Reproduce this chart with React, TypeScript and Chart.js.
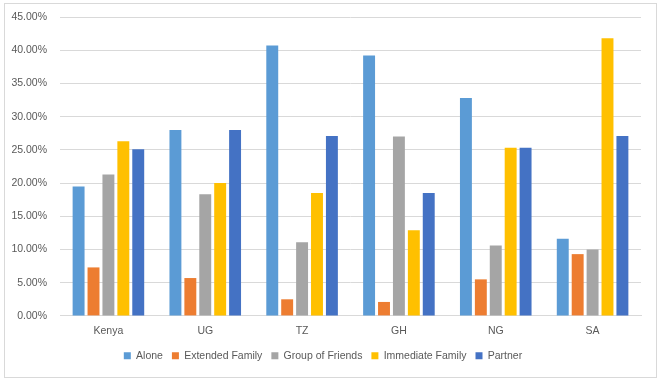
import React, { useEffect, useRef } from "react";
import { Chart, registerables } from "chart.js";

Chart.register(...registerables);

const categories = ["Kenya", "UG", "TZ", "GH", "NG", "SA"];
const alone = [19.5, 28.0, 40.7, 39.2, 32.8, 11.6];
const extendedFamily = [7.3, 5.7, 2.5, 2.1, 5.5, 9.3];
const groupOfFriends = [21.3, 18.3, 11.1, 27.0, 10.6, 10.0];
const immediateFamily = [26.3, 20.0, 18.5, 12.9, 25.3, 41.8];
const partner = [25.1, 28.0, 27.1, 18.5, 25.3, 27.1];

const seriesNames = ["Alone", "Extended Family", "Group of Friends", "Immediate Family", "Partner"];
const seriesData = [alone, extendedFamily, groupOfFriends, immediateFamily, partner];
const seriesColors = ["#5B9BD5", "#ED7D31", "#A5A5A5", "#FFC000", "#4472C4"];

const FONT = "'Liberation Sans', 'DejaVu Sans', sans-serif";

export default function App() {
  const ref = useRef<HTMLCanvasElement | null>(null);
  useEffect(() => {
    if (!ref.current) return;
    const chart = new Chart(ref.current, {
      type: "bar",
      data: {
        labels: categories,
        datasets: seriesNames.map((name, i) => ({
          label: name,
          data: seriesData[i],
          backgroundColor: seriesColors[i],
          borderWidth: 0,
          categoryPercentage: 0.77,
          barPercentage: 0.8,
        })),
      },
      options: {
        animation: false,
        responsive: false,
        maintainAspectRatio: false,
        layout: { padding: { left: 0, right: 15, top: 13, bottom: 6 } },
        plugins: {
          tooltip: { enabled: false },
          legend: {
            position: "bottom",
            labels: {
              boxWidth: 7,
              boxHeight: 7,
              color: "#595959",
              font: { family: FONT, size: 10.5 },
              padding: 9,
            },
          },
        },
        scales: {
          x: {
            afterFit: (s: any) => {
              s.height = s.height + 3;
            },
            grid: { display: false },
            border: { color: "#D9D9D9" },
            ticks: { color: "#595959", font: { family: FONT, size: 10.5 }, padding: 1 },
          },
          y: {
            min: 0,
            max: 45,
            afterFit: (s: any) => {
              s.width = 55;
              s.paddingTop = 0;
              s.paddingBottom = 0;
            },
            grid: { color: "#D9D9D9", drawTicks: false },
            border: { display: false },
            ticks: {
              stepSize: 5,
              padding: 13,
              color: "#595959",
              font: { family: FONT, size: 10.5 },
              callback: (v: any) => Number(v).toFixed(2) + "%",
            },
          },
        },
      },
    });
    return () => chart.destroy();
  }, []);
  return (
    <div style={{ position: "fixed", left: 0, top: 0, width: 665, height: 382, background: "#fff" }}>
      <div
        style={{
          position: "absolute",
          left: 4,
          top: 3,
          width: 651,
          height: 373,
          border: "1px solid #D9D9D9",
        }}
      >
        <canvas ref={ref} width={651} height={373} style={{ display: "block" }} />
      </div>
    </div>
  );
}
